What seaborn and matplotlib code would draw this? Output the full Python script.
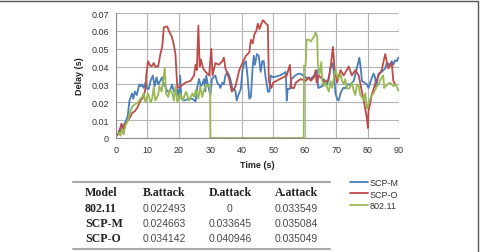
import numpy as np
import pandas as pd
import matplotlib
matplotlib.use("Agg")
import matplotlib.pyplot as plt
import seaborn as sns
from matplotlib.lines import Line2D

# ---------------- data ----------------
scpm_t = [0, 1, 2, 3, 3.7, 4.3, 5.1, 5.5, 6, 6.6, 7, 7.4, 7.9, 8.3, 8.8, 9.4, 9.9, 10.4, 11, 11.7,
          12.3, 12.9, 13.4, 14.1, 14.6, 15.2, 15.7, 16.3, 16.8, 17.3, 17.8, 18.4, 19, 19.5, 20, 20.4,
          20.8, 21.6, 23.2, 24.2, 25.3, 25.8, 26.4, 27, 27.4, 28, 28.4, 28.7, 29.2, 30, 30.5, 31.6,
          32.2, 32.7, 33.2, 33.8, 34.3, 34.8, 35.4, 36, 36.5, 37, 37.6, 38, 38.4, 38.9, 39.7, 40.2,
          40.8, 41.3, 41.8, 42.4, 42.9, 43.4, 43.8, 44.2, 44.8, 45.4, 46, 46.5, 47, 47.5, 48.3, 48.8,
          49.2, 50, 52.1, 53.2, 54, 54.3, 54.6, 55.3, 55.8, 57, 58, 58.7, 60.3, 61.9, 63, 64, 64.3,
          65.6, 66.1, 67.2, 68.2, 69, 69.8, 70.3, 70.8, 71.4, 72.2, 73, 73.5, 74.5, 75.6, 76.6, 77.4,
          77.9, 78.2, 79, 79.8, 80.3, 81, 81.9, 82.4, 82.7, 83.5, 84.5, 85.6, 86.1, 87, 87.7, 88.2,
          88.7, 89.3, 89.8]
scpm_v = [0.001, 0.003, 0.006, 0.009, 0.012, 0.021, 0.025, 0.022, 0.026, 0.024, 0.027, 0.030, 0.029,
          0.030, 0.028, 0.031, 0.0275, 0.0275, 0.032, 0.035, 0.029, 0.034, 0.030, 0.032, 0.034, 0.030,
          0.029, 0.026, 0.026, 0.027, 0.030, 0.026, 0.027, 0.027, 0.022, 0.035, 0.022, 0.021, 0.022,
          0.022, 0.0205, 0.028, 0.033, 0.029, 0.030, 0.033, 0.026, 0.035, 0.030, 0.024, 0.033, 0.035,
          0.031, 0.030, 0.028, 0.031, 0.030, 0.035, 0.037, 0.035, 0.032, 0.0275, 0.0275, 0.026, 0.021,
          0.024, 0.0275, 0.038, 0.042, 0.043, 0.035, 0.022, 0.023, 0.038, 0.046, 0.041, 0.047, 0.046,
          0.037, 0.043, 0.043, 0.035, 0.026, 0.026, 0.035, 0.034, 0.035, 0.036, 0.037, 0.021, 0.0275,
          0.0275, 0.033, 0.035, 0.036, 0.036, 0.034, 0.033, 0.035, 0.038, 0.028, 0.029, 0.033, 0.030,
          0.039, 0.042, 0.025, 0.022, 0.021, 0.025, 0.028, 0.028, 0.030, 0.030, 0.032, 0.039, 0.045,
          0.038, 0.032, 0.031, 0.030, 0.028, 0.032, 0.036, 0.034, 0.028, 0.036, 0.037, 0.039, 0.042,
          0.041, 0.043, 0.041, 0.0435, 0.043, 0.045]

scpo_t = [0, 0.6, 1.4, 1.7, 2.4, 2.9, 3.5, 4.6, 5.1, 6, 6.8, 7.8, 8.8, 9.4, 9.6, 10.2, 10.7, 11.3, 12,
          12.5, 13.4, 14.1, 14.7, 15.2, 16.3, 16.8, 17.7, 18.3, 18.9, 19.5, 20.5, 22.1, 23.7, 24.8,
          25.3, 25.7, 26.2, 26.6, 27, 27.7, 28.5, 29.6, 30.3, 30.7, 31.6, 32.7, 33.8, 34.3, 34.8, 36,
          36.8, 37.4, 38, 39.2, 40.2, 41.3, 42.4, 42.9, 43.5, 44, 44.6, 45.1, 45.6, 46.7, 47.2, 48.3,
          48.6, 49.4, 50, 52.1, 54.3, 55.3, 55.8, 56.6, 57.2, 58.7, 60.3, 61.4, 61.9, 63, 63.5, 63.8,
          64.5, 65.6, 66.6, 67.7, 68.4, 69, 69.5, 70.3, 71.4, 72.4, 74, 75, 76.1, 77.2, 78.2, 79,
          79.8, 80.1, 80.3, 80.8, 81.3, 82.4, 83.5, 84.5, 85.6, 86.1, 86.6, 87.7, 88.2, 88.8]
scpo_v = [0.001, 0.002, 0.006, 0.008, 0.005, 0.008, 0.009, 0.012, 0.014, 0.015, 0.017, 0.021, 0.023,
          0.028, 0.035, 0.043, 0.041, 0.040, 0.042, 0.040, 0.040, 0.047, 0.051, 0.062, 0.0625, 0.060,
          0.057, 0.053, 0.047, 0.028, 0.029, 0.031, 0.032, 0.035, 0.041, 0.038, 0.063, 0.040, 0.044,
          0.039, 0.037, 0.035, 0.050, 0.035, 0.042, 0.041, 0.043, 0.045, 0.039, 0.033, 0.026, 0.027,
          0.029, 0.038, 0.042, 0.046, 0.048, 0.055, 0.053, 0.058, 0.060, 0.064, 0.061, 0.066, 0.065,
          0.063, 0.032, 0.028, 0.031, 0.033, 0.035, 0.041, 0.028, 0.028, 0.031, 0.033, 0.032, 0.034,
          0.032, 0.034, 0.038, 0.031, 0.035, 0.033, 0.031, 0.033, 0.042, 0.051, 0.039, 0.031, 0.038,
          0.035, 0.040, 0.035, 0.038, 0.035, 0.026, 0.019, 0.011, 0.0056, 0.015, 0.019, 0.024, 0.030,
          0.035, 0.038, 0.047, 0.043, 0.039, 0.042, 0.032, 0.030]

wifi_t = [0, 0.9, 1.4, 1.9, 2.4, 3, 3.8, 4.6, 5.3, 6.2, 7, 7.8, 8.3, 8.8, 9.4, 10.2, 11, 11.5, 12,
          12.5, 13.4, 13.8, 14.5, 14.9, 15.5, 15.9, 16.6, 17.1, 17.9, 18.4, 18.9, 19.5, 20.5, 21.2,
          22.3, 23.2, 24.3, 24.8, 25.4, 26.2, 26.8, 27.4, 28.5, 29.5, 29.95, 30.0, 59.7, 59.8, 60.3,
          60.6, 61.4, 61.9, 62.5, 63, 63.5, 64, 64.2, 64.8, 65.3, 65.6, 66.1, 66.6, 67.2, 67.7, 68.2,
          68.7, 69.3, 69.8, 70.3, 70.8, 71.4, 71.9, 72.4, 72.9, 73.5, 74.3, 75, 75.6, 76.1, 76.6,
          77.2, 77.7, 78.2, 78.7, 79.3, 79.8, 80.3, 80.8, 81.4, 81.9, 82.4, 82.9, 83.5, 84, 84.5, 85,
          85.3, 85.8, 86.3, 87.2, 87.7, 88.2, 89, 89.8]
wifi_v = [0.002, 0.003, 0.0013, 0.005, 0.002, 0.007, 0.010, 0.015, 0.018, 0.019, 0.020, 0.022, 0.023,
          0.025, 0.020, 0.025, 0.020, 0.022, 0.0285, 0.021, 0.024, 0.029, 0.026, 0.031, 0.039, 0.025,
          0.023, 0.027, 0.025, 0.021, 0.029, 0.020, 0.025, 0.021, 0.026, 0.021, 0.025, 0.023, 0.027,
          0.022, 0.029, 0.023, 0.030, 0.029, 0.030, 0.0, 0.0, 0.0405, 0.0405, 0.055, 0.055, 0.054,
          0.0555, 0.057, 0.059, 0.0565, 0.0415, 0.036, 0.0425, 0.032, 0.029, 0.031, 0.028, 0.026, 0.032,
          0.028, 0.034, 0.038, 0.035, 0.033, 0.036, 0.032, 0.030, 0.033, 0.0275, 0.028, 0.031, 0.0265,
          0.024, 0.030, 0.029, 0.024, 0.023, 0.021, 0.025, 0.0165, 0.019, 0.022, 0.024, 0.025, 0.027,
          0.029, 0.030, 0.032, 0.034, 0.035, 0.028, 0.029, 0.030, 0.031, 0.030, 0.029, 0.030, 0.0265]

series_names = ["SCP-M", "SCP-O", "802.11"]
series_colors = ["#4a7ebb", "#be4b48", "#98b954"]

table_cols = ["Model", "B.attack", "D.attack", "A.attack"]
table_models = ["802.11", "SCP-M", "SCP-O"]
table_b = ["0.022493", "0.024663", "0.034142"]
table_d = ["0", "0.033645", "0.040946"]
table_a = ["0.033549", "0.035084", "0.035049"]

# ---------------- build frame ----------------
df = pd.concat([
    pd.DataFrame({"Time": scpm_t, "Delay": scpm_v, "Series": "SCP-M"}),
    pd.DataFrame({"Time": scpo_t, "Delay": scpo_v, "Series": "SCP-O"}),
    pd.DataFrame({"Time": wifi_t, "Delay": wifi_v, "Series": "802.11"}),
], ignore_index=True)

sns.set_theme(style="white")
plt.rcParams["font.family"] = ["Liberation Sans", "DejaVu Sans"]

W, H = 481, 253
fig = plt.figure(figsize=(W / 100, H / 100), dpi=100)
fig.patch.set_facecolor("white")

def fx(px):
    return px / W

def fy(py):
    return 1 - py / H

left, right, top, bottom = 116, 399, 14, 139
ax = fig.add_axes([fx(left), fy(bottom), fx(right - left), (bottom - top) / H])

sns.lineplot(data=df, x="Time", y="Delay", hue="Series", hue_order=series_names,
             palette=dict(zip(series_names, series_colors)), estimator=None,
             linewidth=1.3, ax=ax, legend=False)

ax.set_xlim(0, 90)
ax.set_ylim(0, 0.07)
ax.set_xticks(np.arange(0, 91, 10))
ax.set_yticks(np.arange(0, 0.0701, 0.01))
ax.set_xticklabels([str(v) for v in range(0, 91, 10)])
ax.set_yticklabels(["0"] + [f"{v:.2f}" for v in np.arange(0.01, 0.0701, 0.01)])
ax.grid(True, color="#b4b4b4", linewidth=0.8)
ax.set_axisbelow(True)
for s in ["top", "right"]:
    ax.spines[s].set_visible(False)
for s in ["left", "bottom"]:
    ax.spines[s].set_color("#8c8c8c")
    ax.spines[s].set_linewidth(0.8)
ax.tick_params(axis="both", direction="inout", length=4, width=0.8, color="#8c8c8c",
               labelsize=6.5, labelcolor="#333333", pad=3)
for lab in ax.get_xticklabels() + ax.get_yticklabels():
    lab.set_clip_on(False)
ax.set_xlabel("Time (s)", fontsize=6.5, fontweight="bold", color="#222222", labelpad=4)
ax.set_ylabel("Delay (s)", fontsize=6.5, fontweight="bold", color="#222222", labelpad=5)

# legend
handles = [Line2D([0], [0], color=c, lw=1.3) for c in series_colors]
fig.legend(handles, series_names, loc="upper left", bbox_to_anchor=(fx(344), fy(173)),
           frameon=False, fontsize=6.5, handlelength=2.0, handletextpad=0.15,
           labelspacing=0.25, borderpad=0.2, labelcolor="#333333")

# table
tl, tr = 73, 330
fig.add_artist(Line2D([fx(tl), fx(tr)], [fy(183), fy(183)], color="#a8a8a8", lw=1.5))
fig.add_artist(Line2D([fx(tl), fx(tr)], [fy(249.5), fy(249.5)], color="#a8a8a8", lw=1.5))
col_x = [85, 164, 230, 296]
serif = ["Liberation Serif", "DejaVu Serif"]
fig.text(fx(col_x[0]), fy(193), table_cols[0], ha="left", va="center", fontsize=8.6,
         fontweight="bold", family=serif, color="#222222")
for cx, name in zip(col_x[1:], table_cols[1:]):
    fig.text(fx(cx), fy(193), name, ha="center", va="center", fontsize=8.6,
             fontweight="bold", family=serif, color="#222222")
row_y = [209.5, 224.5, 239.5]
for ry, m, b, d, a in zip(row_y, table_models, table_b, table_d, table_a):
    fig.text(fx(col_x[0]), fy(ry), m, ha="left", va="center", fontsize=8.6,
             fontweight="bold", family=serif, color="#222222")
    for cx, val in zip(col_x[1:], [b, d, a]):
        fig.text(fx(cx), fy(ry), val, ha="center", va="center", fontsize=7.5,
                 color="#4a4a4a")

# outer frame lines (top and right)
fig.add_artist(Line2D([0, fx(478)], [fy(1.5), fy(1.5)], color="#555555", lw=1.0))
fig.add_artist(Line2D([fx(478), fx(478)], [fy(1.5), 0], color="#555555", lw=1.0))

fig.savefig("out.png", dpi=100)
